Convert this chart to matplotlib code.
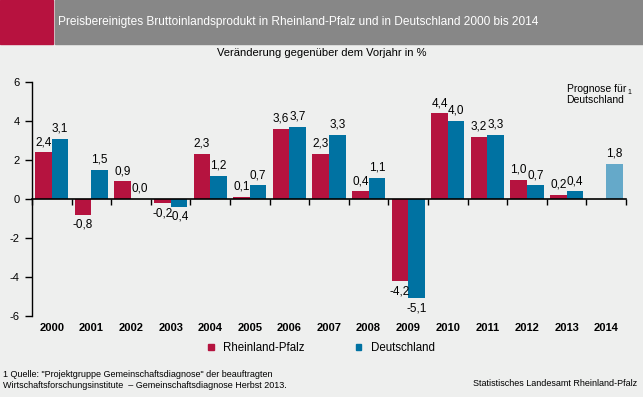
import numpy as np
import matplotlib.pyplot as plt
from matplotlib.patches import Rectangle, Patch

plt.rcParams['font.family'] = ['Liberation Sans', 'DejaVu Sans']

# Daten
years = ['2000', '2001', '2002', '2003', '2004', '2005', '2006', '2007',
         '2008', '2009', '2010', '2011', '2012', '2013', '2014']
rlp = [2.4, -0.8, 0.9, -0.2, 2.3, 0.1, 3.6, 2.3, 0.4, -4.2, 4.4, 3.2, 1.0, 0.2, None]
de = [3.1, 1.5, 0.0, -0.4, 1.2, 0.7, 3.7, 3.3, 1.1, -5.1, 4.0, 3.3, 0.7, 0.4, 1.8]
forecast = [False] * 14 + [True]

c_rlp = '#B5133F'
c_de = '#0072A2'
c_prog = '#65A9C9'
bg = '#EEEFEE'

fig = plt.figure(figsize=(6.43, 3.97), dpi=100, facecolor=bg)

# Kopfzeile
fig.patches.append(Rectangle((0, 1 - 44 / 397), 53 / 643, 44 / 397,
                             transform=fig.transFigure, color='#B7123F', zorder=0))
fig.patches.append(Rectangle((55 / 643, 1 - 44 / 397), 1 - 55 / 643, 44 / 397,
                             transform=fig.transFigure, color='#878787', zorder=0))
fig.text(58 / 643, 1 - 22 / 397,
         'Preisbereinigtes Bruttoinlandsprodukt in Rheinland-Pfalz und in Deutschland 2000 bis 2014',
         color='white', fontsize=8.6, va='center', ha='left')
fig.text(0.5, 1 - 53 / 397, 'Veränderung gegenüber dem Vorjahr in %',
         fontsize=8, va='center', ha='center')

ax = fig.add_axes([32 / 643, 1 - 316 / 397, (626 - 32) / 643, (316 - 82) / 397])
ax.set_facecolor(bg)

x = np.arange(len(years))
w = 0.42

def fmt(v):
    return f'{v:.1f}'.replace('.', ',')

for i in range(len(years)):
    if rlp[i] is not None:
        ax.bar(x[i] - w / 2, rlp[i], w, color=c_rlp, zorder=2)
        v = rlp[i]
        ax.annotate(fmt(v), (x[i] - w / 2, v), xytext=(0, 3 if v >= 0 else -3),
                    textcoords='offset points', ha='center',
                    va='bottom' if v >= 0 else 'top', fontsize=8.5)
    col = c_prog if forecast[i] else c_de
    ax.bar(x[i] + w / 2, de[i], w, color=col, zorder=2)
    v = de[i]
    ax.annotate(fmt(v), (x[i] + w / 2, v), xytext=(0, 3 if v >= 0 else -3),
                textcoords='offset points', ha='center',
                va='bottom' if v >= 0 else 'top', fontsize=8.5)

ax.set_xlim(-0.5, len(years) - 0.5)
ax.set_ylim(-6, 6)
ax.set_yticks(np.arange(-6, 7, 2))
ax.set_yticklabels([str(t) for t in range(-6, 7, 2)], fontsize=8)
ax.tick_params(axis='y', direction='out', length=5, width=1, pad=4)

for s in ['top', 'right']:
    ax.spines[s].set_visible(False)
ax.spines['left'].set_linewidth(1)
ax.spines['bottom'].set_position(('data', 0))
ax.spines['bottom'].set_linewidth(1.2)
ax.set_xticks(np.arange(len(years) + 1) - 0.5)
ax.set_xticklabels([])
ax.tick_params(axis='x', direction='out', length=4, width=1)

sec = ax.secondary_xaxis('bottom')
sec.set_xticks(x)
sec.set_xticklabels(years, fontsize=8, fontweight='bold')
sec.tick_params(length=0, pad=5)
sec.spines['bottom'].set_visible(False)

ax.text(0.9, 0.99, 'Prognose für\nDeutschland', transform=ax.transAxes,
        fontsize=7.5, ha='left', va='top', linespacing=1.05)
ax.text(1.006, 0.953, '1', transform=ax.transAxes, fontsize=5, ha='center', va='center')

handles = [Patch(color=c_rlp, label='Rheinland-Pfalz'),
           Patch(color=c_de, label='Deutschland')]
fig.legend(handles=handles, loc='center', bbox_to_anchor=(0.5, 1 - 348 / 397),
           ncol=2, frameon=False, fontsize=8.3, handlelength=0.45, handleheight=0.45,
           columnspacing=4.5, handletextpad=0.8)

fig.text(3 / 643, 1 - 380 / 397,
         '1 Quelle: "Projektgruppe Gemeinschaftsdiagnose" der beauftragten\n'
         'Wirtschaftsforschungsinstitute  \u2013 Gemeinschaftsdiagnose Herbst 2013.',
         fontsize=6.5, ha='left', va='center', linespacing=1.25)
fig.text(637 / 643, 1 - 384 / 397, 'Statistisches Landesamt Rheinland-Pfalz',
         fontsize=6.5, ha='right', va='center')

fig.savefig('out.png', dpi=100, facecolor=bg)
